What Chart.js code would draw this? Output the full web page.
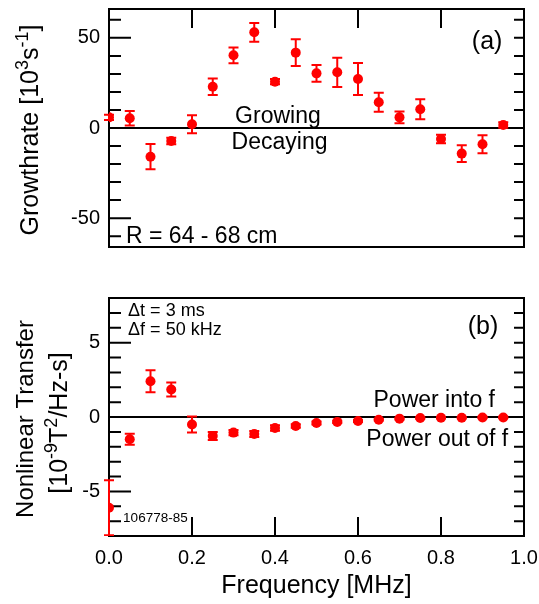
<!DOCTYPE html>
<html>
<head>
<meta charset="utf-8">
<script src="https://cdn.jsdelivr.net/npm/chart.js@4.4.0/dist/chart.umd.min.js"></script>
<style>
  html, body { margin: 0; padding: 0; background: #fff; }
  #wrap { position: relative; width: 539px; height: 604px; }
  canvas { position: absolute; left: 0; }
  #growthChart { top: 0; }
  #transferChart { top: 270px; }
</style>
</head>
<body>
<div id="wrap">
  <canvas id="growthChart" width="539" height="270"></canvas>
  <canvas id="transferChart" width="539" height="334"></canvas>
</div>
<script>
var FONT = '"Liberation Sans", Arial, Helvetica, sans-serif';

// frequency bins (MHz)
var frequency = [0.00, 0.05, 0.10, 0.15, 0.20, 0.25, 0.30, 0.35, 0.40, 0.45,
                 0.50, 0.55, 0.60, 0.65, 0.70, 0.75, 0.80, 0.85, 0.90, 0.95];

// growth rate [10^3 s^-1] and its uncertainty
var growthRate = [5.9, 5.4, -15.9, -7.2, 2.1, 22.9, 40.3, 53.1, 25.7, 41.8,
                  30.3, 30.9, 27.2, 14.3, 5.9, 10.4, -6.1, -14.2, -9.0, 1.7];
var growthErr = [1.5, 4.0, 7.0, 1.8, 5.0, 4.6, 4.4, 5.2, 1.5, 7.4,
                 4.6, 8.1, 8.9, 5.3, 3.3, 5.5, 2.4, 4.6, 5.0, 1.5];

// nonlinear transfer [10^-9 T^2/Hz-s] and its uncertainty
var transfer = [-6.1, -1.5, 2.4, 1.85, -0.5, -1.27, -1.05, -1.14, -0.74, -0.6,
                -0.4, -0.33, -0.27, -0.18, -0.11, -0.07, -0.05, -0.05, -0.03, -0.03];
var transferErr = [1.85, 0.37, 0.74, 0.47, 0.54, 0.27, 0.18, 0.2, 0.18, 0.12,
                   0.1, 0.08, 0.06, 0.05, 0.05, 0.05, 0.04, 0.04, 0.04, 0.04];

var freqTicks = [0.0, 0.2, 0.4, 0.6, 0.8, 1.0];
var growthTicks = [-50, 0, 50];
var transferTicks = [-5, 0, 5];

Chart.defaults.color = "#000";
Chart.defaults.font.family = FONT;

function points(ys) {
    return frequency.map(function (f, i) { return { x: f, y: ys[i] }; });
}

// draw a run of text pieces, some of them superscripted, centred on (x, y)
function drawRich(ctx, parts, x, y, size, angle) {
    var supSize = Math.round(size * 0.72);
    ctx.save();
    ctx.translate(x, y);
    ctx.rotate(angle);
    var widths = parts.map(function (p) {
        ctx.font = (p.sup ? supSize : size) + "px " + FONT;
        return ctx.measureText(p.t).width;
    });
    var total = widths.reduce(function (a, b) { return a + b; }, 0);
    var cx = -total / 2;
    ctx.textAlign = "left";
    ctx.textBaseline = "alphabetic";
    ctx.fillStyle = "#000";
    parts.forEach(function (p, i) {
        ctx.font = (p.sup ? supSize : size) + "px " + FONT;
        ctx.fillText(p.t, cx, p.sup ? -size * 0.42 : 0);
        cx += widths[i];
    });
    ctx.restore();
}

// frame, inward ticks, zero line, error bars and annotations
var framePlugin = {
    id: "frame",
    beforeDatasetsDraw: function (chart, args, opts) {
        var ctx = chart.ctx, a = chart.chartArea;
        var x = chart.scales.x, y = chart.scales.y;
        ctx.save();
        ctx.strokeStyle = "#000";
        ctx.lineWidth = 2;

        var y0 = y.getPixelForValue(0);
        ctx.beginPath();
        ctx.moveTo(a.left, y0);
        ctx.lineTo(a.right, y0);
        ctx.stroke();

        ctx.strokeRect(a.left, a.top, a.right - a.left, a.bottom - a.top);

        // y ticks on both sides, longer where labelled
        ctx.beginPath();
        var step = opts.minorStep;
        for (var v = Math.ceil(y.min / step) * step; v < y.max; v += step) {
            var py = y.getPixelForValue(v);
            if (py <= a.top + 1 || py >= a.bottom - 1) continue;
            var major = opts.majors.indexOf(Math.round(v * 1000) / 1000) >= 0;
            ctx.moveTo(a.left, py);
            ctx.lineTo(a.left + (major ? 22 : 12), py);
            ctx.moveTo(a.right, py);
            ctx.lineTo(a.right - 10, py);
        }
        // x ticks on one side only
        freqTicks.forEach(function (f) {
            var px = x.getPixelForValue(f);
            if (px <= a.left + 1 || px >= a.right - 1) return;
            if (opts.xSide === "top") {
                ctx.moveTo(px, a.top);
                ctx.lineTo(px, a.top + 19);
            } else {
                ctx.moveTo(px, a.bottom);
                ctx.lineTo(px, a.bottom - 19);
            }
        });
        ctx.stroke();

        // error bars
        ctx.beginPath();
        ctx.rect(a.left - 6, a.top, a.right - a.left + 12, a.bottom - a.top);
        ctx.clip();
        ctx.strokeStyle = "#ff0000";
        ctx.beginPath();
        var vals = opts.values, errs = opts.errors;
        frequency.forEach(function (f, i) {
            var px = x.getPixelForValue(f);
            var top = y.getPixelForValue(vals[i] + errs[i]);
            var bot = y.getPixelForValue(vals[i] - errs[i]);
            ctx.moveTo(px, top);
            ctx.lineTo(px, bot);
            ctx.moveTo(px - 5, top);
            ctx.lineTo(px + 5, top);
            ctx.moveTo(px - 5, bot);
            ctx.lineTo(px + 5, bot);
        });
        ctx.stroke();
        ctx.restore();
    },
    afterDraw: function (chart, args, opts) {
        var ctx = chart.ctx;
        var x = chart.scales.x, y = chart.scales.y;
        ctx.save();
        ctx.fillStyle = "#000";
        ctx.textBaseline = "alphabetic";
        opts.notes.forEach(function (n) {
            ctx.font = n.size + "px " + FONT;
            ctx.textAlign = n.align;
            ctx.fillText(n.text, x.getPixelForValue(n.x), y.getPixelForValue(n.y));
        });
        ctx.restore();
        opts.titles.forEach(function (t) {
            drawRich(ctx, t.parts, t.x, t.y, t.size, -Math.PI / 2);
        });
    }
};

function baseOptions(yMin, yMax, yTicks, showX, padding) {
    return {
        responsive: false,
        animation: false,
        layout: { padding: padding },
        plugins: { legend: { display: false }, tooltip: { enabled: false } },
        scales: {
            x: {
                type: "linear",
                min: 0,
                max: 1,
                display: showX,
                grid: { display: false, drawTicks: false },
                border: { display: false },
                afterBuildTicks: function (scale) {
                    scale.ticks = freqTicks.map(function (v) { return { value: v }; });
                },
                afterFit: function (scale) {
                    // the outer padding alone sets the plot area
                    scale.paddingLeft = 0;
                    scale.paddingRight = 0;
                    if (showX) scale.height = 68;
                },
                ticks: {
                    padding: 10,
                    font: { size: 20 },
                    callback: function (v) { return Number(v).toFixed(1); }
                },
                title: {
                    display: showX,
                    text: "Frequency [MHz]",
                    font: { size: 25 },
                    padding: { top: 2, bottom: 3 }
                }
            },
            y: {
                type: "linear",
                min: yMin,
                max: yMax,
                grid: { display: false, drawTicks: false },
                border: { display: false },
                afterBuildTicks: function (scale) {
                    scale.ticks = yTicks.map(function (v) { return { value: v }; });
                },
                afterFit: function (scale) {
                    scale.width = 109;
                    scale.paddingTop = 0;
                    scale.paddingBottom = 0;
                },
                ticks: { padding: 9, font: { size: 20 } }
            }
        }
    };
}

function dataset(ys) {
    return {
        type: "scatter",
        data: points(ys),
        pointRadius: 5,
        pointBackgroundColor: "#ff0000",
        pointBorderWidth: 0,
        showLine: false
    };
}

// growth rate panel
var growthOpts = baseOptions(-66, 66, growthTicks, false, { left: 0, right: 15, top: 9, bottom: 23 });
growthOpts.plugins.frame = {
    minorStep: 10,
    majors: growthTicks,
    xSide: "top",
    values: growthRate,
    errors: growthErr,
    notes: [
        { text: "(a)", x: 0.948, y: 43.8, size: 25, align: "right" },
        { text: "Growing", x: 0.407, y: 3.0, size: 23, align: "center" },
        { text: "Decaying", x: 0.411, y: -11.6, size: 23, align: "center" },
        { text: "R = 64 - 68 cm", x: 0.041, y: -63.8, size: 23, align: "left" }
    ],
    titles: [
        { x: 38, y: 130, size: 25, parts: [
            { t: "Growthrate [10" }, { t: "3", sup: true }, { t: "s" },
            { t: "-1", sup: true }, { t: "]" }] }
    ]
};
new Chart(document.getElementById("growthChart").getContext("2d"), {
    type: "scatter",
    data: { datasets: [dataset(growthRate)] },
    options: growthOpts,
    plugins: [framePlugin]
});

// nonlinear transfer panel
var transferOpts = baseOptions(-8, 8, transferTicks, true, { left: 0, right: 15, top: 28, bottom: 0 });
transferOpts.plugins.frame = {
    minorStep: 1,
    majors: transferTicks,
    xSide: "bottom",
    values: transfer,
    errors: transferErr,
    notes: [
        { text: "\u0394t = 3 ms", x: 0.046, y: 6.77, size: 18, align: "left" },
        { text: "\u0394f = 50 kHz", x: 0.046, y: 5.53, size: 18, align: "left" },
        { text: "(b)", x: 0.938, y: 5.6, size: 25, align: "right" },
        { text: "Power into f", x: 0.93, y: 0.69, size: 23, align: "right" },
        { text: "Power out of f", x: 0.962, y: -1.95, size: 23, align: "right" },
        { text: "106778-85", x: 0.034, y: -7.06, size: 13.5, align: "left" }
    ],
    titles: [
        { x: 33, y: 149, size: 24, parts: [{ t: "Nonlinear Transfer" }] },
        { x: 67, y: 153, size: 25, parts: [
            { t: "[10" }, { t: "-9", sup: true }, { t: "T" },
            { t: "2", sup: true }, { t: "/Hz-s]" }] }
    ]
};
new Chart(document.getElementById("transferChart").getContext("2d"), {
    type: "scatter",
    data: { datasets: [dataset(transfer)] },
    options: transferOpts,
    plugins: [framePlugin]
});
</script>
</body>
</html>
